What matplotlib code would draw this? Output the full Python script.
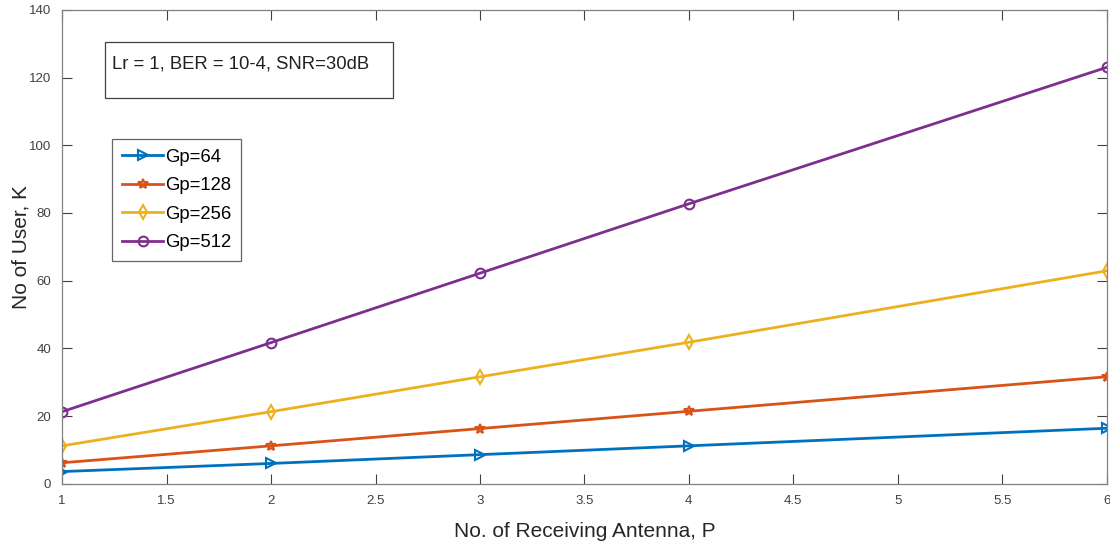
import matplotlib
matplotlib.use("Agg")
import matplotlib.pyplot as plt
from matplotlib.patches import Rectangle

plt.rcParams['font.family'] = ['Liberation Sans', 'DejaVu Sans']

# receiving antennas and number of users for each processing gain
P = [1, 2, 3, 4, 6]
K64 = [3.6, 6.0, 8.6, 11.2, 16.4]
K128 = [6.2, 11.2, 16.3, 21.4, 31.6]
K256 = [11.2, 21.3, 31.6, 41.8, 62.9]
K512 = [21.3, 41.7, 62.2, 82.7, 123.0]

series = [
    (K64, 'Gp=64', '#0072BD', '>'),
    (K128, 'Gp=128', '#D95319', '*'),
    (K256, 'Gp=256', '#EDB120', 'd'),
    (K512, 'Gp=512', '#7E2F8E', 'o'),
]

fig = plt.figure(figsize=(11.1, 5.46), dpi=100)
ax = fig.add_axes([0.056, 0.114, 0.941, 0.868])

for k, lab, c, m in series:
    ax.plot(P, k, color=c, lw=2, marker=m, ms=7, mfc='none', mew=1.5, label=lab)

ax.set_xlim(1, 6)
ax.set_ylim(0, 140)
ax.set_xticks([1, 1.5, 2, 2.5, 3, 3.5, 4, 4.5, 5, 5.5, 6])
ax.set_xticklabels(['1', '1.5', '2', '2.5', '3', '3.5', '4', '4.5', '5', '5.5', '6'])
ax.set_yticks(range(0, 141, 20))
ax.tick_params(direction='in', top=True, right=True, length=7, width=0.8,
               labelsize=9.5, colors='#404040', pad=8)
for sp in ax.spines.values():
    sp.set_color('#808080')
    sp.set_linewidth(0.9)

ax.set_xlabel('No. of Receiving Antenna, P', fontsize=15, color='#262626', labelpad=11)
ax.set_ylabel('No of User, K', fontsize=15, color='#262626', labelpad=-1)

# annotation box with simulation parameters
box = Rectangle((0.041, 0.815), 0.276, 0.117, transform=ax.transAxes,
                fill=False, edgecolor='#404040', lw=0.9)
ax.add_patch(box)
ax.text(0.048, 0.886, 'Lr = 1, BER = 10-4, SNR=30dB', transform=ax.transAxes,
        fontsize=13.3, va='center', ha='left', color='#202020')

leg = ax.legend(loc='upper left', bbox_to_anchor=(0.048, 0.728), prop={'size': 13.3},
                frameon=True, fancybox=False, edgecolor='#404040',
                handlelength=2.2, handletextpad=0.1, borderpad=0.55,
                labelspacing=0.62, borderaxespad=0)
leg.get_frame().set_linewidth(0.9)

fig.savefig('out.png', dpi=100)
